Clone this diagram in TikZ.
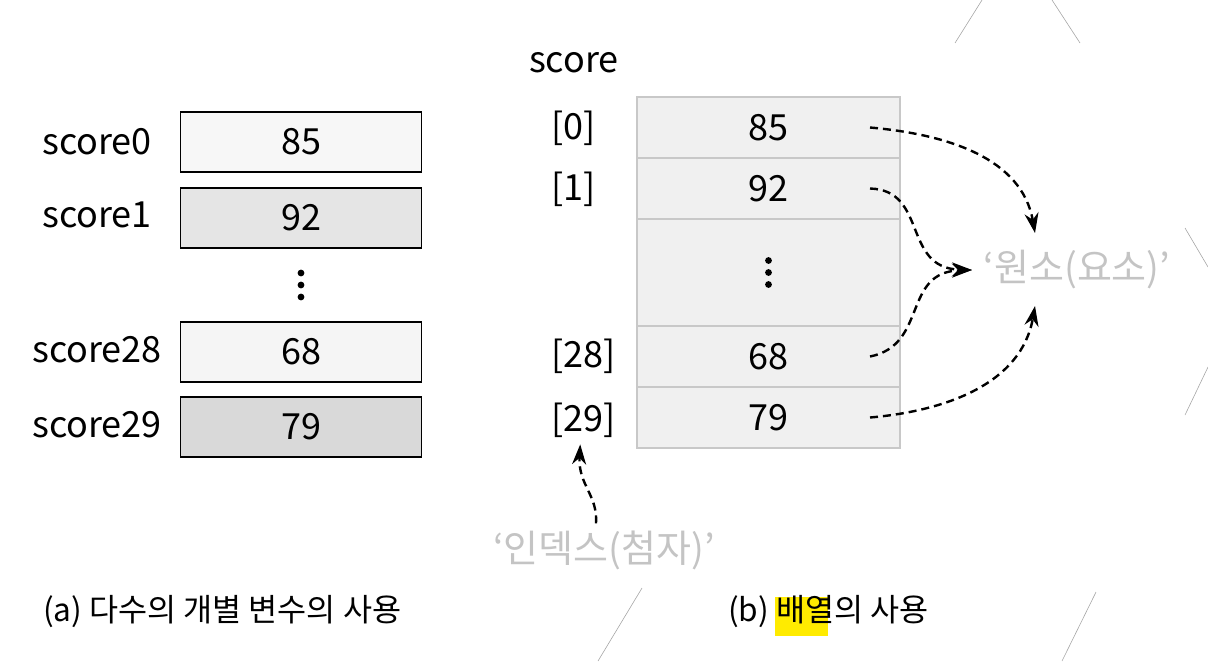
\documentclass[tikz,border=0pt]{standalone}
\usepackage{fontspec}
\setmainfont{Noto Sans CJK KR}
\usetikzlibrary{arrows.meta,positioning}
\definecolor{cellgray}{HTML}{F0F0F0}
\definecolor{cellline}{HTML}{C8C8C8}
\definecolor{labgray}{HTML}{C4C4C4}
\definecolor{hl}{HTML}{FFEB00}

\begin{document}
\begin{tikzpicture}[
    x=0.5pt, y=-0.5pt,
    var/.style={draw, line width=0.8pt, minimum width=120.5pt, minimum height=30pt, font=\fontsize{18}{20}\selectfont},
    vname/.style={font=\fontsize{18}{20}\selectfont},
    cell/.style={draw=cellline, fill=cellgray, line width=1pt, outer sep=0pt, minimum width=131.5pt, minimum height=30.5pt, font=\fontsize{18}{20}\selectfont},
    idx/.style={anchor=west, font=\fontsize{18}{20}\selectfont},
    glab/.style={text=labgray, font=\fontsize{19}{21}\selectfont},
    captext/.style={font=\fontsize{15.8}{18}\selectfont},
    dasharr/.style={-{Stealth[length=10pt,width=7pt]}, line width=1.2pt, dash pattern=on 4pt off 2.5pt},
    scanline/.style={gray!70, line width=0.3pt}
  ]
    \useasboundingbox (0,0) rectangle (1208,661);

    % (a) separate variables
    \node[var, fill=black!3] (v0) at (301,142) {85};
    \node[var, fill=black!10] (v1) at (301,218) {92};
    \node[var, fill=black!4] (v28) at (301,352) {68};
    \node[var, fill=black!15] (v29) at (301,427) {79};
    \coordinate (vdots) at (301,285);
    \foreach \d in {-12,0,12}
      \fill ([yshift=\d*0.5pt]vdots) circle (1.7pt);
    \node[vname] (n0) at (97,142) {score0};
    \node[vname] (n1) at (97,215) {score1};
    \node[vname] (n28) at (97,350) {score28};
    \node[vname] (n29) at (97,425) {score29};

    % (b) array
    \node[vname, anchor=west] (arr) at (522,63) {score};
    \node[cell] (c0) at (768.5,127.5) {85};
    \node[cell, below=0pt of c0] (c1) {92};
    \node[cell, below=0pt of c1, minimum height=53.5pt] (cdots) {};
    \node[cell, below=0pt of cdots] (c28) {68};
    \node[cell, below=0pt of c28] (c29) {79};
    \foreach \d in {-12,0,12}
      \fill ([yshift=\d*0.5pt]cdots.center) circle (1.7pt);
    \node[idx] (i0) at (544,128) {[0]};
    \node[idx] (i1) at (544,189) {[1]};
    \node[idx] (i28) at (544,356) {[28]};
    \node[idx] (i29) at (544,420) {[29]};

    \node[glab] (elem) at (1077,270) {‘원소(요소)’};
    \node[glab] (index) at (604,550) {‘인덱스(첨자)’};

    \coordinate (e0) at (1035,233);
    \coordinate (e1) at (972,270);
    \coordinate (e29) at (1035,306);

    \draw[dasharr] ([xshift=-15pt]c0.east) to[out=-5,in=100] (e0);
    \draw[dasharr] ([xshift=-15pt]c1.east) .. controls (928,190) and (902,268) .. (e1);
    \draw[dasharr] ([xshift=-15pt]c28.east) .. controls (928,345) and (902,272) .. (e1);
    \draw[dasharr] ([xshift=-15pt]c29.east) to[out=5,in=-100] (e29);
    \draw[dasharr] ([xshift=-4pt]index.north) .. controls (598,495) and (578,485) .. ([xshift=-1.5pt]i29.south);

    % captions
    \node[captext, anchor=west] (capa) at (36,612) {(a) 다수의 개별 변수의 사용};
    \fill[hl] (775,597) rectangle (828,636);
    \node[captext, anchor=west] (capb) at (721,612) {(b) 배열의 사용};

    % scan edges
    \draw[scanline] (955,43) -- (982,0);
    \draw[scanline] (1052,0) -- (1080,43);
    \draw[scanline] (1185,228) -- (1208,267);
    \draw[scanline] (1185,415) -- (1208,367);
    \draw[scanline] (642,588) -- (598,661);
    \draw[scanline] (1096,592) -- (1062,661);
  \end{tikzpicture}
\end{document}
